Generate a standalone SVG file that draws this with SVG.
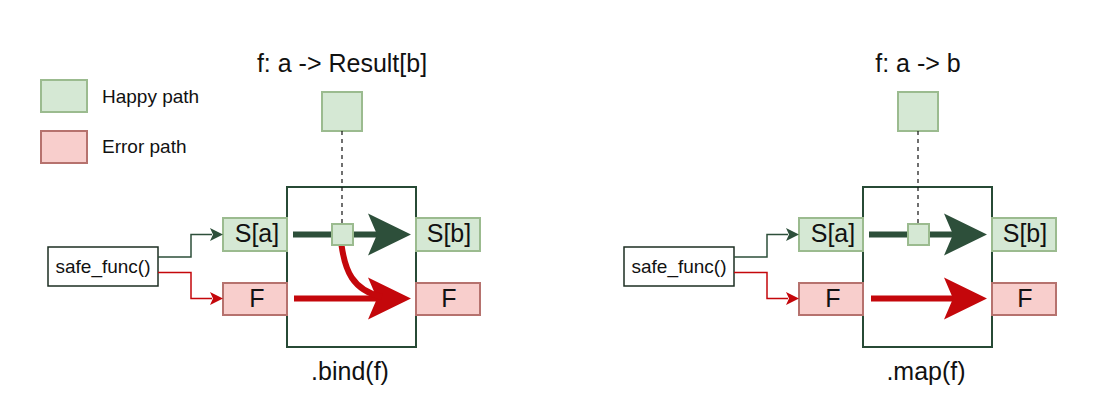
<svg xmlns="http://www.w3.org/2000/svg" width="1096" height="402" viewBox="0 0 1096 402">
<style>
text{font-family:"Liberation Sans",Arial,sans-serif;fill:#111}
.big{font-size:25px}
.sm{font-size:19px}
.g{fill:#d5e8d4;stroke:#9bbb8f;stroke-width:2}
.r{fill:#f8cecc;stroke:#b6726e;stroke-width:2}
.box{fill:#fff;stroke:#274a35;stroke-width:2}
.fn{fill:#fff;stroke:#1c2e22;stroke-width:1.5}
.dash{stroke:#111;stroke-width:1.2;stroke-dasharray:4 4;fill:none}
.cg{fill:none;stroke:#2d4f3a;stroke-width:1.5}
.cr{fill:none;stroke:#c4070b;stroke-width:1.5}
.tg{fill:none;stroke:#2d4f3a;stroke-width:6}
.tr{fill:none;stroke:#c4070b;stroke-width:6}
.hg{fill:#2d4f3a}
.hr{fill:#c4070b}
</style>
<rect width="1096" height="402" fill="#fff"/>
<g id="legend">
<rect class="g" x="41" y="80" width="46" height="32"/>
<text class="sm" x="102" y="103">Happy path</text>
<rect class="r" x="41" y="131" width="46" height="32"/>
<text class="sm" x="102" y="153">Error path</text>
</g>
<g id="bind-title"><text class="big" x="342" y="72" text-anchor="middle">f: a -&gt; Result[b]</text></g>
<g id="map-title"><text class="big" x="918" y="72" text-anchor="middle">f: a -&gt; b</text></g>
<g id="bind-f"><rect class="g" x="322" y="92" width="40" height="39"/></g>
<g id="map-f"><rect class="g" x="898" y="92" width="40" height="39"/></g>
<g id="bind-box"><rect class="box" x="287" y="187" width="129" height="160"/><text class="big" x="350" y="380" text-anchor="middle">.bind(f)</text></g>
<g id="map-box"><rect class="box" x="863" y="187" width="129" height="160"/><text class="big" x="926" y="380" text-anchor="middle">.map(f)</text></g>
<g id="bind-sa"><rect class="g" x="223" y="218" width="64" height="33"/><text class="big" x="257" y="242" text-anchor="middle">S[a]</text></g>
<g id="bind-sb"><rect class="g" x="416" y="218" width="64" height="33"/><text class="big" x="449" y="242" text-anchor="middle">S[b]</text></g>
<g id="bind-fl"><rect class="r" x="223" y="283" width="64" height="32"/><text class="big" x="257" y="307" text-anchor="middle">F</text></g>
<g id="bind-fr"><rect class="r" x="416" y="283" width="64" height="32"/><text class="big" x="449" y="307" text-anchor="middle">F</text></g>
<g id="map-sa"><rect class="g" x="799" y="218" width="64" height="33"/><text class="big" x="833" y="242" text-anchor="middle">S[a]</text></g>
<g id="map-sb"><rect class="g" x="992" y="218" width="64" height="33"/><text class="big" x="1025" y="242" text-anchor="middle">S[b]</text></g>
<g id="map-fl"><rect class="r" x="799" y="283" width="64" height="32"/><text class="big" x="833" y="307" text-anchor="middle">F</text></g>
<g id="map-fr"><rect class="r" x="992" y="283" width="64" height="32"/><text class="big" x="1025" y="307" text-anchor="middle">F</text></g>
<g id="bind-safe"><rect class="fn" x="48" y="247" width="110" height="39"/><text class="sm" x="103" y="273" text-anchor="middle">safe_func()</text></g>
<g id="map-safe"><rect class="fn" x="624" y="247" width="110" height="39"/><text class="sm" x="679" y="273" text-anchor="middle">safe_func()</text></g>
<g id="connectors">
<path class="dash" d="M342 131V224"/>
<path class="dash" d="M918 131V224"/>
<path class="cg" d="M158 257H191V234.5H212"/>
<path class="hg" d="M223 234.5L210 228L213 234.5L210 241Z"/>
<path class="cr" d="M158 272.5H191V298.5H212"/>
<path class="hr" d="M223 298.5L210 292L213 298.5L210 305Z"/>
<path class="cg" d="M734 257H767V234.5H788"/>
<path class="hg" d="M799 234.5L786 228L789 234.5L786 241Z"/>
<path class="cr" d="M734 272.5H767V298.5H788"/>
<path class="hr" d="M799 298.5L786 292L789 298.5L786 305Z"/>
<path class="tg" d="M293 234.5H378"/>
<path class="hg" d="M411 234.5L368 213.5L377 234.5L368 255.5Z"/>
<path class="tr" d="M294 298.5H378"/>
<path class="hr" d="M411 298.5L368 277.5L377 298.5L368 319.5Z"/>
<path class="tr" d="M341.5 245C345 270 352 290 382 297"/>
<rect class="g" x="332" y="224" width="21" height="21"/>
<path class="tg" d="M869 234.5H954"/>
<path class="hg" d="M987 234.5L944 213.5L953 234.5L944 255.5Z"/>
<path class="tr" d="M871 298.5H954"/>
<path class="hr" d="M987 298.5L944 277.5L953 298.5L944 319.5Z"/>
<rect class="g" x="908" y="224" width="21" height="21"/>
</g>
</svg>
